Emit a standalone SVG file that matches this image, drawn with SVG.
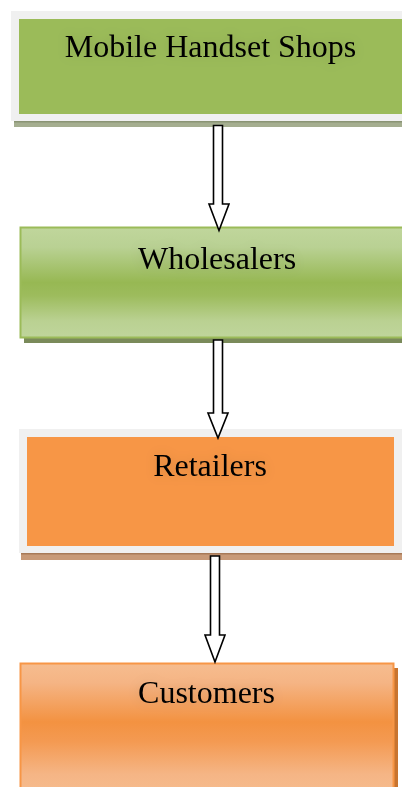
<svg xmlns="http://www.w3.org/2000/svg" width="402" height="787" viewBox="0 0 402 787">
  <defs>
    <linearGradient id="greenGlow" x1="0" y1="0" x2="0" y2="1">
      <stop offset="0" stop-color="#c0d69c"/>
      <stop offset="0.18" stop-color="#b9d193"/>
      <stop offset="0.5" stop-color="#97b853"/>
      <stop offset="0.62" stop-color="#9dbc5d"/>
      <stop offset="0.85" stop-color="#bad192"/>
      <stop offset="1" stop-color="#bfd59b"/>
    </linearGradient>
    <linearGradient id="orangeGlow" x1="0" y1="0" x2="0" y2="1">
      <stop offset="0" stop-color="#f6bd8f"/>
      <stop offset="0.15" stop-color="#f5b484"/>
      <stop offset="0.45" stop-color="#f39241"/>
      <stop offset="0.6" stop-color="#f49a52"/>
      <stop offset="0.85" stop-color="#f5b585"/>
      <stop offset="1" stop-color="#f6bc8e"/>
    </linearGradient>
    <filter id="halo" x="-20%" y="-60%" width="140%" height="220%">
      <feGaussianBlur in="SourceAlpha" stdDeviation="6" result="b"/>
      <feFlood flood-color="#000" flood-opacity="0.12"/>
      <feComposite in2="b" operator="in" result="s"/>
      <feMerge>
        <feMergeNode in="s"/>
        <feMergeNode in="SourceGraphic"/>
      </feMerge>
    </filter>
  </defs>
  <style>
    .label { font-family: "Liberation Serif", "Times New Roman", serif; font-size: 32px; fill: #000; text-anchor: middle; }
    .frame { fill: #f0f0f0; }
    .arrow { fill: #fff; stroke: #000; stroke-width: 1.6; stroke-linejoin: miter; }
  </style>

  <rect width="402" height="787" fill="#fff"/>

  <!-- Mobile Handset Shops -->
  <g id="shops">
    <rect x="14" y="121" width="388" height="6" fill="#a5ae90"/>
    <rect x="14" y="121" width="388" height="1.5" fill="#8a9474"/>
    <rect class="frame" x="11" y="11" width="391" height="110"/>
    <rect x="19" y="19" width="383" height="95" fill="#9bbb59"/>
    <text class="label" x="210.5" y="57" filter="url(#halo)">Mobile Handset Shops</text>
  </g>

  <!-- Wholesalers -->
  <g id="wholesalers">
    <rect x="24" y="338" width="378" height="5" fill="#7a8a5a"/>
    <rect x="20.5" y="227.5" width="383" height="110" fill="url(#greenGlow)" stroke="#9bbb59" stroke-width="2"/>
    <text class="label" x="217" y="269" filter="url(#halo)">Wholesalers</text>
  </g>

  <!-- Retailers -->
  <g id="retailers">
    <rect x="21" y="553" width="381" height="7" fill="#c89a78"/>
    <rect x="21" y="553" width="381" height="1.5" fill="#a87a58"/>
    <rect class="frame" x="19" y="429" width="383" height="124"/>
    <rect x="27" y="437" width="367" height="109" fill="#f79646"/>
    <text class="label" x="210" y="476" filter="url(#halo)">Retailers</text>
  </g>

  <!-- Customers -->
  <g id="customers">
    <rect x="393" y="668" width="5" height="119" fill="#c8742f"/>
    <rect x="20.5" y="663.5" width="373" height="130" fill="url(#orangeGlow)" stroke="#f79646" stroke-width="2"/>
    <text class="label" x="206.5" y="703" filter="url(#halo)">Customers</text>
  </g>

  <!-- block arrows between levels -->
  <g id="connectors">
    <path class="arrow" d="M213.5,125.5 H222.5 V204 H229 L219,230.5 L209,204 H213.5 Z"/>
    <path class="arrow" d="M213.5,340 H222.5 V413 H228 L218,438 L208,413 H213.5 Z"/>
    <path class="arrow" d="M210.5,556 H219.5 V635 H225 L215,662 L205,635 H210.5 Z"/>
  </g>
</svg>
